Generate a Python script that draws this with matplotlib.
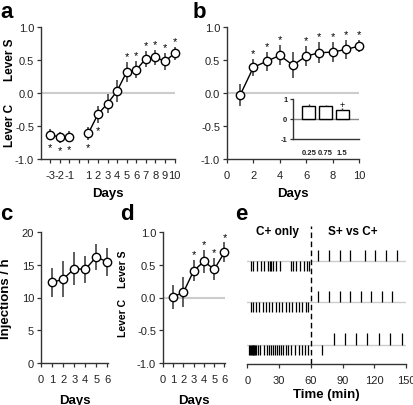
import matplotlib
matplotlib.use('Agg')
import matplotlib.pyplot as plt
import numpy as np

plt.rcParams['font.family'] = ['Liberation Sans', 'DejaVu Sans']
plt.rcParams['axes.unicode_minus'] = False

# panel a: discrimination index, baseline days (-3..-1) then days 1..10
a_days_pre = [-3, -2, -1]
a_mean_pre = [-0.63, -0.67, -0.66]
a_err_pre = [0.08, 0.08, 0.08]
a_days = [1, 2, 3, 4, 5, 6, 7, 8, 9, 10]
a_mean = [-0.61, -0.32, -0.16, 0.03, 0.32, 0.35, 0.52, 0.54, 0.48, 0.60]
a_err = [0.10, 0.13, 0.15, 0.16, 0.15, 0.13, 0.12, 0.11, 0.13, 0.10]
a_star_pre = [-1, -1, -1]           # -1 = star below, 1 = above, 0 = none
a_star = [-1, -1, 0, 0, 1, 1, 1, 1, 1, 1]

# panel b
b_days = [1, 2, 3, 4, 5, 6, 7, 8, 9, 10]
b_mean = [-0.03, 0.39, 0.48, 0.57, 0.42, 0.56, 0.61, 0.62, 0.66, 0.71]
b_err = [0.17, 0.13, 0.14, 0.15, 0.20, 0.15, 0.16, 0.15, 0.14, 0.09]
b_star = [0, 1, 1, 1, 0, 1, 1, 1, 1, 1]

# panel b inset: dose
dose_labels = ['0.25', '0.75', '1.5']
dose_mean = [0.67, 0.64, 0.46]
dose_err = [0.07, 0.07, 0.10]

# panel c
c_days = [1, 2, 3, 4, 5, 6]
c_mean = [12.3, 12.8, 14.4, 14.3, 16.2, 15.4]
c_err = [2.15, 2.7, 2.5, 2.1, 1.95, 2.1]

# panel d
d_days = [1, 2, 3, 4, 5, 6]
d_mean = [0.01, 0.08, 0.41, 0.55, 0.43, 0.69]
d_err = [0.18, 0.23, 0.16, 0.18, 0.17, 0.15]
d_star = [0, 0, 1, 1, 1, 1]

# panel e: lever press times (min); C presses drawn below line, S presses above
e1_c = [3, 5, 9, 12.5, 16, 19, 21, 22.5, 24.5, 27, 31, 41, 43.5, 45.5, 49.5, 53, 56.5, 58]
e1_s = [67, 77, 87.5, 97, 111, 121, 131.5, 141.5]
e2_c = [3, 5, 8, 11, 14.5, 17.5, 20.5, 23.5, 26.5, 29.5, 33, 36, 39, 42.5, 45.5, 49, 52, 55, 57.5]
e2_s = [67, 77, 87.5, 97, 107, 117, 127, 137]
e3_c = [1.5, 2.5, 3.2, 4, 4.8, 5.5, 6.5, 7.5, 8.5, 10, 12, 16, 18, 20, 22, 24, 26, 27.5,
        30, 32, 34, 36.5, 38.5, 41.5, 45, 48.5, 52, 54.5, 57, 70.5]
e3_s = [81.5, 92.2, 103, 113.5, 124.2, 135, 146.2]

W, H = 414, 406
fig = plt.figure(figsize=(W / 100, H / 100), dpi=100)

def box(l, t, r, b):
    return [l / W, 1 - b / H, (r - l) / W, (b - t) / H]

spine_c = '#333333'
grey_line = '#cccccc'
tick_fs = 8
lab_fs = 9.5

def style(ax):
    for s in ['top', 'right']:
        ax.spines[s].set_visible(False)
    for s in ['left', 'bottom']:
        ax.spines[s].set_color(spine_c)
        ax.spines[s].set_linewidth(1)
    ax.tick_params(direction='out', length=3, width=0.9, color=spine_c,
                   labelsize=tick_fs, labelcolor='#222222', pad=2)

def points(ax, x, m, e):
    ax.errorbar(x, m, yerr=e, fmt='none', ecolor='#333333', elinewidth=1.1,
                capsize=0, zorder=2, clip_on=False)
    ax.plot(x, m, '-', color='black', lw=1, zorder=3, clip_on=False)
    ax.plot(x, m, 'o', ms=6, mfc='white', mec='black', mew=1, zorder=4, clip_on=False)

def stars(ax, x, m, e, flags, gap):
    for xi, mi, ei, f in zip(x, m, e, flags):
        if f > 0:
            ax.text(xi, mi + ei + gap, '*', ha='center', va='center', fontsize=8)
        elif f < 0:
            ax.text(xi, mi - ei - gap * 1.25, '*', ha='center', va='center', fontsize=8)

def lever_labels(ax, x, ys, yc, fs):
    ax.text(x, ys, 'Lever S', rotation=90, ha='center', va='center',
            fontsize=fs, fontweight='bold', transform=ax.transAxes)
    ax.text(x, yc, 'Lever C', rotation=90, ha='center', va='center',
            fontsize=fs, fontweight='bold', transform=ax.transAxes)

yt = [-1.0, -0.5, 0.0, 0.5, 1.0]
ytl = ['-1.0', '-0.5', '0.0', '0.5', '1.0']

# ---- a
ax = fig.add_axes(box(41, 28, 175, 160))
style(ax)
pos_pre = [d + 3 for d in a_days_pre]
pos = [d + 3 for d in a_days]
ax.axhline(0, color=grey_line, lw=1.5, zorder=1)
points(ax, pos_pre, a_mean_pre, a_err_pre)
points(ax, pos, a_mean, a_err)
stars(ax, pos_pre, a_mean_pre, a_err_pre, a_star_pre, 0.09)
stars(ax, pos, a_mean, a_err, a_star, 0.09)
ax.set_xlim(-0.95, 13.05)
ax.set_ylim(-1, 1)
ax.set_xticks(range(14))
ax.set_xticklabels(['-3', '-2', '-1', ''] + [str(d) for d in a_days])
ax.tick_params(axis='x', pad=5)
ax.set_yticks(yt)
ax.set_yticklabels(ytl)
ax.set_xlabel('Days', fontsize=lab_fs, fontweight='bold', labelpad=5)
lever_labels(ax, -0.235, 0.76, 0.265, 8.5)
fig.text(0 / W, 1 - 2 / H, 'a', fontsize=16, fontweight='bold', va='top')

# ---- b
ax = fig.add_axes(box(227, 28, 359, 160))
style(ax)
ax.axhline(0, color=grey_line, lw=1.5, zorder=1)
points(ax, b_days, b_mean, b_err)
stars(ax, b_days, b_mean, b_err, b_star, 0.09)
ax.set_xlim(0, 10)
ax.set_ylim(-1, 1)
ax.set_xticks([0, 2, 4, 6, 8, 10])
ax.tick_params(axis='x', pad=5)
ax.set_yticks(yt)
ax.set_yticklabels(ytl)
ax.set_xlabel('Days', fontsize=lab_fs, fontweight='bold', labelpad=5)
fig.text(193 / W, 1 - 2 / H, 'b', fontsize=16, fontweight='bold', va='top')

# inset
ins = fig.add_axes(box(293, 100, 359, 140))
style(ins)
ins.patch.set_alpha(0)
ix = np.arange(1, len(dose_mean) + 1)
ins.axhline(0, color='#888888', lw=1, zorder=1)
ins.bar(ix, dose_mean, width=0.78, color='white', edgecolor='black', lw=1, zorder=2)
ins.errorbar(ix, dose_mean, yerr=[[0] * len(ix), dose_err], fmt='none',
             ecolor='#333333', elinewidth=1, capsize=0, zorder=3)
ins.text(ix[2], dose_mean[2] + dose_err[2] + 0.18, '+', ha='center', va='center', fontsize=6.5)
ins.set_xlim(0.05, 4.0)
ins.set_ylim(-1, 1)
ins.set_yticks([-1, 0, 1])
ins.set_yticklabels(['-1', '0', '1'], fontweight='bold')
ins.set_xticks(ix)
ins.set_xticklabels(dose_labels, fontweight='bold')
ins.tick_params(labelsize=5.5, length=2)
ins.tick_params(axis='x', length=0, pad=7)

# ---- c
ax = fig.add_axes(box(41, 233, 108, 364))
style(ax)
points(ax, c_days, c_mean, c_err)
ax.set_xlim(0, 6.05)
ax.set_ylim(0, 20)
ax.set_xticks(range(7))
ax.set_yticks([0, 5, 10, 15, 20])
ax.tick_params(axis='x', pad=5)
ax.set_xlabel('Days', fontsize=lab_fs, fontweight='bold', labelpad=7)
ax.set_ylabel('Injections / h', fontsize=lab_fs, fontweight='bold', labelpad=7)
fig.text(0 / W, 1 - 204 / H, 'c', fontsize=16, fontweight='bold', va='top')

# ---- d
ax = fig.add_axes(box(163, 233, 225, 364))
style(ax)
ax.axhline(0, color=grey_line, lw=1.5, zorder=1)
points(ax, d_days, d_mean, d_err)
stars(ax, d_days, d_mean, d_err, d_star, 0.09)
ax.set_xlim(0, 6.05)
ax.set_ylim(-1, 1)
ax.set_xticks(range(7))
ax.set_yticks(yt)
ax.set_yticklabels(ytl)
ax.tick_params(axis='x', pad=5)
ax.set_xlabel('Days', fontsize=lab_fs, fontweight='bold', labelpad=7)
lever_labels(ax, -0.64, 0.72, 0.35, 7.5)
fig.text(120 / W, 1 - 204 / H, 'd', fontsize=16, fontweight='bold', va='top')

# ---- e
ax = fig.add_axes(box(247.5, 227, 406, 365))
style(ax)
ax.spines['left'].set_visible(False)
ax.set_yticks([])
rows = [(103, e1_c, e1_s), (62, e2_c, e2_s), (19.3, e3_c, e3_s)]
tick_h = 10
for y0, cs, ss in rows:
    ax.plot([0, 150], [y0, y0], color=grey_line, lw=1, zorder=1)
    ax.vlines(cs, y0 - tick_h, y0, color='black', lw=0.9, zorder=2)
    ax.vlines(ss, y0, y0 + tick_h + 1.5, color='black', lw=0.9, zorder=2)
ax.axvline(60, ymin=0, ymax=1, color='black', lw=1, ls=(0, (4, 2.5)))
ax.text(28, 133, 'C+ only', ha='center', va='center', fontsize=8.5, fontweight='bold')
ax.text(100, 133, 'S+ vs C+', ha='center', va='center', fontsize=8.5, fontweight='bold')
ax.set_xlim(0, 150)
ax.set_ylim(0, 138)
ax.set_xticks([0, 30, 60, 90, 120, 150])
ax.tick_params(axis='x', pad=5)
ax.set_xlabel('Time (min)', fontsize=lab_fs, fontweight='bold', labelpad=2)
fig.text(235 / W, 1 - 204 / H, 'e', fontsize=16, fontweight='bold', va='top')

fig.savefig('out.png', dpi=100)
